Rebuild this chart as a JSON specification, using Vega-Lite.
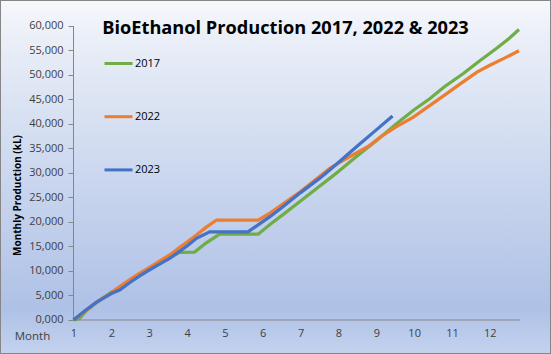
{
  "$schema": "https://vega.github.io/schema/vega-lite/v6.json",
  "width": 551,
  "height": 354,
  "autosize": "none",
  "padding": 0,
  "background": "#ffffff",
  "config": {
    "view": {
      "fill": {"gradient": "linear", "x1": 0, "y1": 0, "x2": 0, "y2": 1,
        "stops": [
          {"offset": 0, "color": "#f6f8fc"},
          {"offset": 0.1, "color": "#ebeff8"},
          {"offset": 0.35, "color": "#d6e0f2"},
          {"offset": 0.7, "color": "#bccbea"},
          {"offset": 0.87, "color": "#aec1e6"},
          {"offset": 1, "color": "#c4d2ee"}
        ]},
      "stroke": "#868686",
      "strokeWidth": 2
    },
    "font": "Open Sans"
  },
  "title": {
    "text": "BioEthanol Production 2017, 2022 & 2023",
    "font": "Open Sans",
    "fontSize": 18.2,
    "fontWeight": "bold",
    "color": "#000000",
    "anchor": "middle",
    "frame": "group",
    "dx": 10,
    "offset": -38
  },
  "resolve": {"axis": {"x": "independent", "y": "independent"}},
  "datasets": {
    "prod": [
      {"m": 1, "v": 0, "year": "2017"},
      {"m": 1.15, "v": 250, "year": "2017"},
      {"m": 1.34, "v": 1900, "year": "2017"},
      {"m": 1.6, "v": 3500, "year": "2017"},
      {"m": 2.0, "v": 5650, "year": "2017"},
      {"m": 2.22, "v": 6300, "year": "2017"},
      {"m": 2.5, "v": 7900, "year": "2017"},
      {"m": 2.75, "v": 9250, "year": "2017"},
      {"m": 3.0, "v": 10500, "year": "2017"},
      {"m": 3.25, "v": 11700, "year": "2017"},
      {"m": 3.54, "v": 12700, "year": "2017"},
      {"m": 3.8, "v": 13800, "year": "2017"},
      {"m": 4.2, "v": 13850, "year": "2017"},
      {"m": 4.5, "v": 15700, "year": "2017"},
      {"m": 4.86, "v": 17500, "year": "2017"},
      {"m": 5.88, "v": 17500, "year": "2017"},
      {"m": 6.19, "v": 19500, "year": "2017"},
      {"m": 6.5, "v": 21300, "year": "2017"},
      {"m": 7.0, "v": 24300, "year": "2017"},
      {"m": 7.5, "v": 27300, "year": "2017"},
      {"m": 7.77, "v": 28900, "year": "2017"},
      {"m": 8.0, "v": 30300, "year": "2017"},
      {"m": 8.5, "v": 33500, "year": "2017"},
      {"m": 9.0, "v": 36600, "year": "2017"},
      {"m": 9.54, "v": 40100, "year": "2017"},
      {"m": 10.0, "v": 42900, "year": "2017"},
      {"m": 10.42, "v": 45200, "year": "2017"},
      {"m": 10.8, "v": 47600, "year": "2017"},
      {"m": 11.3, "v": 50300, "year": "2017"},
      {"m": 11.7, "v": 52700, "year": "2017"},
      {"m": 12.18, "v": 55450, "year": "2017"},
      {"m": 12.5, "v": 57400, "year": "2017"},
      {"m": 12.77, "v": 59300, "year": "2017"},

      {"m": 1, "v": 0, "year": "2022"},
      {"m": 1.3, "v": 1700, "year": "2022"},
      {"m": 1.6, "v": 3600, "year": "2022"},
      {"m": 2.0, "v": 5600, "year": "2022"},
      {"m": 2.22, "v": 6800, "year": "2022"},
      {"m": 2.5, "v": 8300, "year": "2022"},
      {"m": 2.75, "v": 9550, "year": "2022"},
      {"m": 3.0, "v": 10700, "year": "2022"},
      {"m": 3.25, "v": 11900, "year": "2022"},
      {"m": 3.54, "v": 13270, "year": "2022"},
      {"m": 3.8, "v": 14800, "year": "2022"},
      {"m": 4.0, "v": 15900, "year": "2022"},
      {"m": 4.25, "v": 17350, "year": "2022"},
      {"m": 4.5, "v": 18900, "year": "2022"},
      {"m": 4.78, "v": 20400, "year": "2022"},
      {"m": 5.88, "v": 20400, "year": "2022"},
      {"m": 6.19, "v": 21800, "year": "2022"},
      {"m": 6.5, "v": 23500, "year": "2022"},
      {"m": 7.0, "v": 26200, "year": "2022"},
      {"m": 7.5, "v": 29300, "year": "2022"},
      {"m": 7.77, "v": 30950, "year": "2022"},
      {"m": 8.0, "v": 32000, "year": "2022"},
      {"m": 8.5, "v": 34200, "year": "2022"},
      {"m": 8.82, "v": 35600, "year": "2022"},
      {"m": 9.1, "v": 37300, "year": "2022"},
      {"m": 9.5, "v": 39300, "year": "2022"},
      {"m": 9.98, "v": 41400, "year": "2022"},
      {"m": 10.4, "v": 43700, "year": "2022"},
      {"m": 10.86, "v": 46200, "year": "2022"},
      {"m": 11.2, "v": 48100, "year": "2022"},
      {"m": 11.66, "v": 50600, "year": "2022"},
      {"m": 12.0, "v": 52000, "year": "2022"},
      {"m": 12.4, "v": 53500, "year": "2022"},
      {"m": 12.77, "v": 54960, "year": "2022"},

      {"m": 1, "v": 0, "year": "2023"},
      {"m": 1.3, "v": 1900, "year": "2023"},
      {"m": 1.6, "v": 3600, "year": "2023"},
      {"m": 2.0, "v": 5400, "year": "2023"},
      {"m": 2.22, "v": 6120, "year": "2023"},
      {"m": 2.5, "v": 7700, "year": "2023"},
      {"m": 2.75, "v": 9000, "year": "2023"},
      {"m": 3.0, "v": 10200, "year": "2023"},
      {"m": 3.25, "v": 11300, "year": "2023"},
      {"m": 3.54, "v": 12590, "year": "2023"},
      {"m": 3.8, "v": 14000, "year": "2023"},
      {"m": 4.0, "v": 15100, "year": "2023"},
      {"m": 4.25, "v": 16670, "year": "2023"},
      {"m": 4.6, "v": 18000, "year": "2023"},
      {"m": 5.61, "v": 18000, "year": "2023"},
      {"m": 6.19, "v": 21080, "year": "2023"},
      {"m": 6.5, "v": 22900, "year": "2023"},
      {"m": 7.0, "v": 26000, "year": "2023"},
      {"m": 7.5, "v": 28900, "year": "2023"},
      {"m": 7.77, "v": 30600, "year": "2023"},
      {"m": 8.0, "v": 32150, "year": "2023"},
      {"m": 8.5, "v": 35500, "year": "2023"},
      {"m": 9.0, "v": 38800, "year": "2023"},
      {"m": 9.43, "v": 41650, "year": "2023"}
    ]
  },
  "layer": [
    {
      "data": {"values": [{}]},
      "mark": {"type": "rule", "color": "#868686", "strokeWidth": 1},
      "encoding": {
        "x": {"datum": 1, "type": "quantitative", "scale": {"domain": [-0.942, 13.616], "nice": false, "zero": false}, "axis": null},
        "x2": {"datum": 12.8},
        "y": {"datum": 0, "type": "quantitative", "scale": {"domain": [-6939, 65306], "nice": false, "zero": false}, "axis": null}
      }
    },
    {
      "data": {"values": [{}]},
      "mark": {"type": "rule", "color": "#868686", "strokeWidth": 1},
      "encoding": {
        "x": {"datum": 1, "type": "quantitative", "scale": {"domain": [-0.942, 13.616], "nice": false, "zero": false}, "axis": null},
        "y": {"datum": 0, "type": "quantitative", "scale": {"domain": [-6939, 65306], "nice": false, "zero": false}, "axis": null},
        "y2": {"datum": 60000}
      }
    },
    {
      "data": {"name": "prod"},
      "mark": {"type": "line", "strokeWidth": 3.25, "interpolate": "linear"},
      "encoding": {
        "x": {
          "field": "m", "type": "quantitative",
          "scale": {"domain": [-0.942, 13.616], "nice": false, "zero": false},
          "axis": {
            "orient": "bottom", "offset": -34,
            "values": [1, 2, 3, 4, 5, 6, 7, 8, 9, 10, 11, 12],
            "domain": false, "grid": false, "ticks": false, "tickSize": 0,
            "labelPadding": 7, "labelFont": "Open Sans", "labelFontSize": 11, "labelColor": "#404040",
            "labelFlush": false, "labelOverlap": false,
            "title": "Month", "titleFont": "Open Sans", "titleFontSize": 11.5, "titleFontWeight": "normal",
            "titleColor": "#404040", "titleX": 32, "titleY": 16, "titleAlign": "center", "titleBaseline": "middle"
          }
        },
        "y": {
          "field": "v", "type": "quantitative",
          "scale": {"domain": [-6939, 65306], "nice": false, "zero": false},
          "axis": {
            "orient": "left", "offset": -73,
            "values": [0, 5000, 10000, 15000, 20000, 25000, 30000, 35000, 40000, 45000, 50000, 55000, 60000],
            "labelExpr": "datum.value == 0 ? '0,000' : format(datum.value, ',')",
            "domain": false, "grid": false, "ticks": true, "tickSize": 5, "tickColor": "#868686",
            "labelPadding": 5, "labelFont": "Open Sans", "labelFontSize": 11, "labelColor": "#404040",
            "labelFlush": false, "labelOverlap": false,
            "title": "Monthly Production (kL)", "titleFont": "Open Sans", "titleFontSize": 10, "titleFontWeight": "bold",
            "titleColor": "#000000", "titleX": -56, "titleY": 195, "titleAlign": "center", "titleBaseline": "middle", "titleAngle": 270
          }
        },
        "color": {
          "field": "year", "type": "nominal",
          "scale": {"domain": ["2017", "2022", "2023"], "range": ["#70ad47", "#ed7d31", "#4472c4"]},
          "legend": {
            "orient": "none", "legendX": 103, "legendY": 48, "title": null, "padding": 0,
            "symbolType": "stroke", "symbolSize": 784, "symbolStrokeWidth": 3,
            "rowPadding": 31.2, "labelOffset": 1, "labelFont": "Open Sans", "labelFontSize": 11, "labelColor": "#000000"
          }
        }
      }
    }
  ]
}
